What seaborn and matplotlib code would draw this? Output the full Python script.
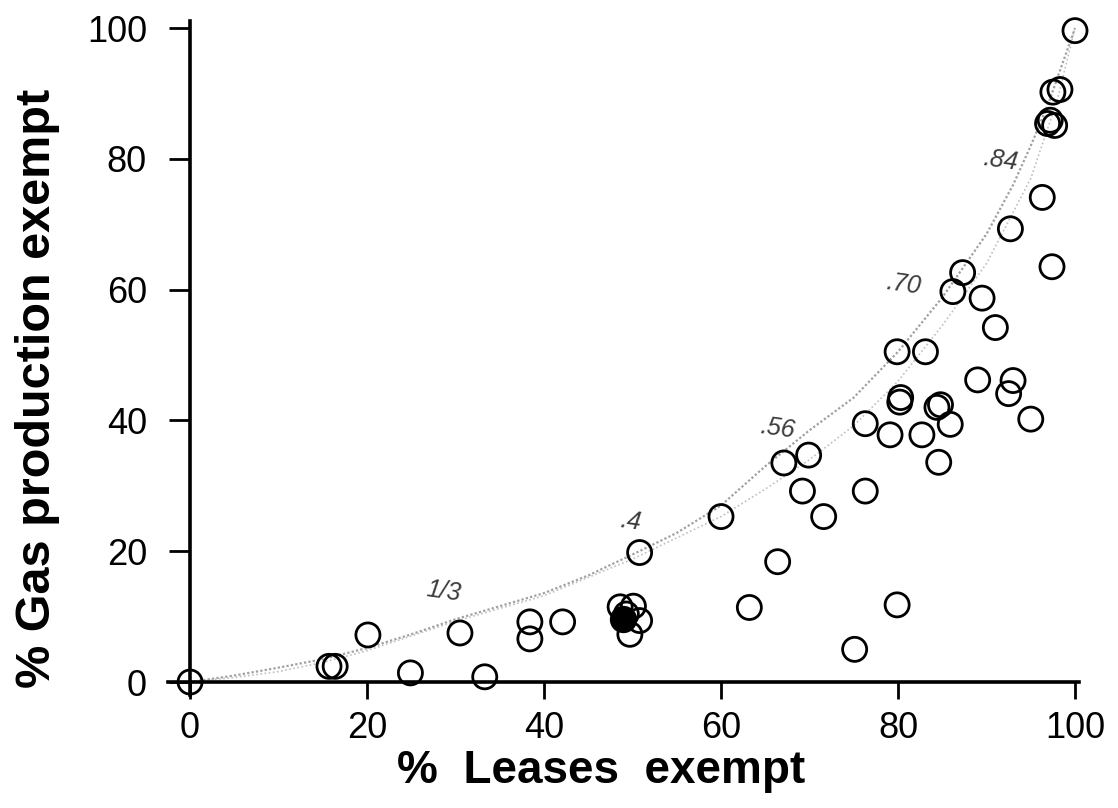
import matplotlib
matplotlib.use("Agg")
import matplotlib.pyplot as plt
import seaborn as sns
import pandas as pd

# ---- data ----
leases_open = [0.0, 15.7, 16.4, 20.1, 24.9, 30.5, 33.3, 38.4, 38.4, 42.1,
               48.6, 50.1, 50.8, 49.7, 49.3, 50.8, 60.0, 63.2, 66.4, 67.1,
               69.2, 69.9, 71.6, 75.1, 76.3, 76.3, 79.1, 79.9, 80.3, 80.2,
               79.9, 82.7, 83.1, 84.4, 84.8, 85.9, 84.6, 86.2, 87.3, 89.0,
               89.5, 91.0, 92.7, 92.5, 93.0, 95.0, 96.3, 97.4, 96.9, 97.7,
               97.2, 97.5, 98.3, 100.0]
gas_open = [0.0, 2.4, 2.4, 7.2, 1.4, 7.5, 0.8, 9.2, 6.6, 9.2,
            11.5, 11.6, 9.4, 7.3, 10.4, 19.8, 25.3, 11.4, 18.4, 33.5,
            29.2, 34.7, 25.3, 5.0, 39.5, 29.2, 37.8, 50.5, 43.5, 42.8,
            11.8, 37.8, 50.5, 42.0, 42.4, 39.4, 33.6, 59.7, 62.6, 46.2,
            58.7, 54.2, 69.3, 44.1, 46.1, 40.2, 74.1, 63.5, 85.4, 85.1,
            85.9, 90.2, 90.6, 99.6]
leases_filled = [48.9]
gas_filled = [9.7]

curve_upper_x = [0, 5, 10, 15, 20, 25, 30, 35, 40, 45, 50, 55, 60, 65, 70,
                 75, 80, 85, 90, 93, 95, 97, 100]
curve_upper_y = [0, 1.0, 2.2, 3.5, 5.2, 7.3, 9.6, 11.6, 13.6, 16.3, 19.5, 22.8,
                 27.0, 33.0, 38.5, 43.5, 50.5, 58.8, 68.5, 76.0, 82.0, 88.5, 100]
curve_lower_x = [0, 5, 10, 15, 20, 30, 40, 50, 60, 65, 70, 75, 80, 85, 90, 95, 98, 100]
curve_lower_y = [0, 0.7, 1.6, 3.0, 4.8, 9.3, 13.2, 18.8, 25.3, 29.5, 34.0, 39.2,
                 46.0, 54.5, 64.0, 77.0, 89.0, 100]

notes = ["1/3", ".4", ".56", ".70", ".84"]
notes_x = [28.6, 49.7, 66.4, 80.6, 91.5]
notes_y = [13.8, 24.5, 38.8, 60.8, 79.8]

x_ticks = [0, 20, 40, 60, 80, 100]
y_ticks = [0, 20, 40, 60, 80, 100]

# ---- styling ----
sns.set_theme(style="white")
plt.rcParams['font.family'] = ['Liberation Sans', 'DejaVu Sans']
plt.rcParams['text.color'] = 'black'
plt.rcParams['axes.labelcolor'] = 'black'
plt.rcParams['xtick.color'] = 'black'
plt.rcParams['ytick.color'] = 'black'

fig = plt.figure(figsize=(11.18, 8.08), dpi=100)
ax = fig.add_axes([0.1502, 0.1397, 0.8153, 0.8337])

df_open = pd.DataFrame({"x": leases_open, "y": gas_open})
df_fill = pd.DataFrame({"x": leases_filled, "y": gas_filled})
df_up = pd.DataFrame({"x": curve_upper_x, "y": curve_upper_y})
df_lo = pd.DataFrame({"x": curve_lower_x, "y": curve_lower_y})

sns.lineplot(data=df_up, x="x", y="y", ax=ax, sort=False, estimator=None,
             color="#a0a0a0", linestyle=(0, (1, 1)), linewidth=1.6, zorder=1)
sns.lineplot(data=df_lo, x="x", y="y", ax=ax, sort=False, estimator=None,
             color="#c0c0c0", linestyle=(0, (1, 1.5)), linewidth=1.2, zorder=1)

sns.scatterplot(data=df_open, x="x", y="y", ax=ax, s=300, facecolor="none",
                edgecolor="black", linewidth=2.0, zorder=3, clip_on=False)
sns.scatterplot(data=df_fill, x="x", y="y", ax=ax, s=330, color="black",
                edgecolor="black", linewidth=1.5, zorder=4, clip_on=False)

for t, xx, yy in zip(notes, notes_x, notes_y):
    ax.text(xx, yy, t, fontsize=18, color="#3a3a3a", style="italic",
            ha="center", va="center", rotation=-8, zorder=2)

ax.set_xlim(-2.5, 100.5)
ax.set_ylim(-2, 101)
ax.set_xticks(x_ticks)
ax.set_yticks(y_ticks)
ax.set_xticklabels([str(v) for v in x_ticks])
ax.set_yticklabels([str(v) for v in y_ticks])

for s in ["top", "right"]:
    ax.spines[s].set_visible(False)
ax.spines["left"].set_position(("data", 0))
ax.spines["bottom"].set_position(("data", 0))
for s in ["left", "bottom"]:
    ax.spines[s].set_linewidth(2.6)
    ax.spines[s].set_color("black")

ax.tick_params(axis="x", direction="out", length=12, width=2.0, color="black",
               labelsize=26, pad=9, bottom=True, labelcolor="black")
ax.tick_params(axis="y", direction="out", length=15, width=2.0, color="black",
               labelsize=26, pad=16, left=True, labelcolor="black")

ax.set_xlabel("%  Leases  exempt", fontsize=33, fontweight="bold", color="black")
ax.set_ylabel("% Gas production exempt", fontsize=35, fontweight="bold", color="black")
ax.xaxis.set_label_coords(0.475, -0.08)
ax.yaxis.set_label_coords(-0.118, 0.456)

fig.savefig("out.png", dpi=100, facecolor="white")
